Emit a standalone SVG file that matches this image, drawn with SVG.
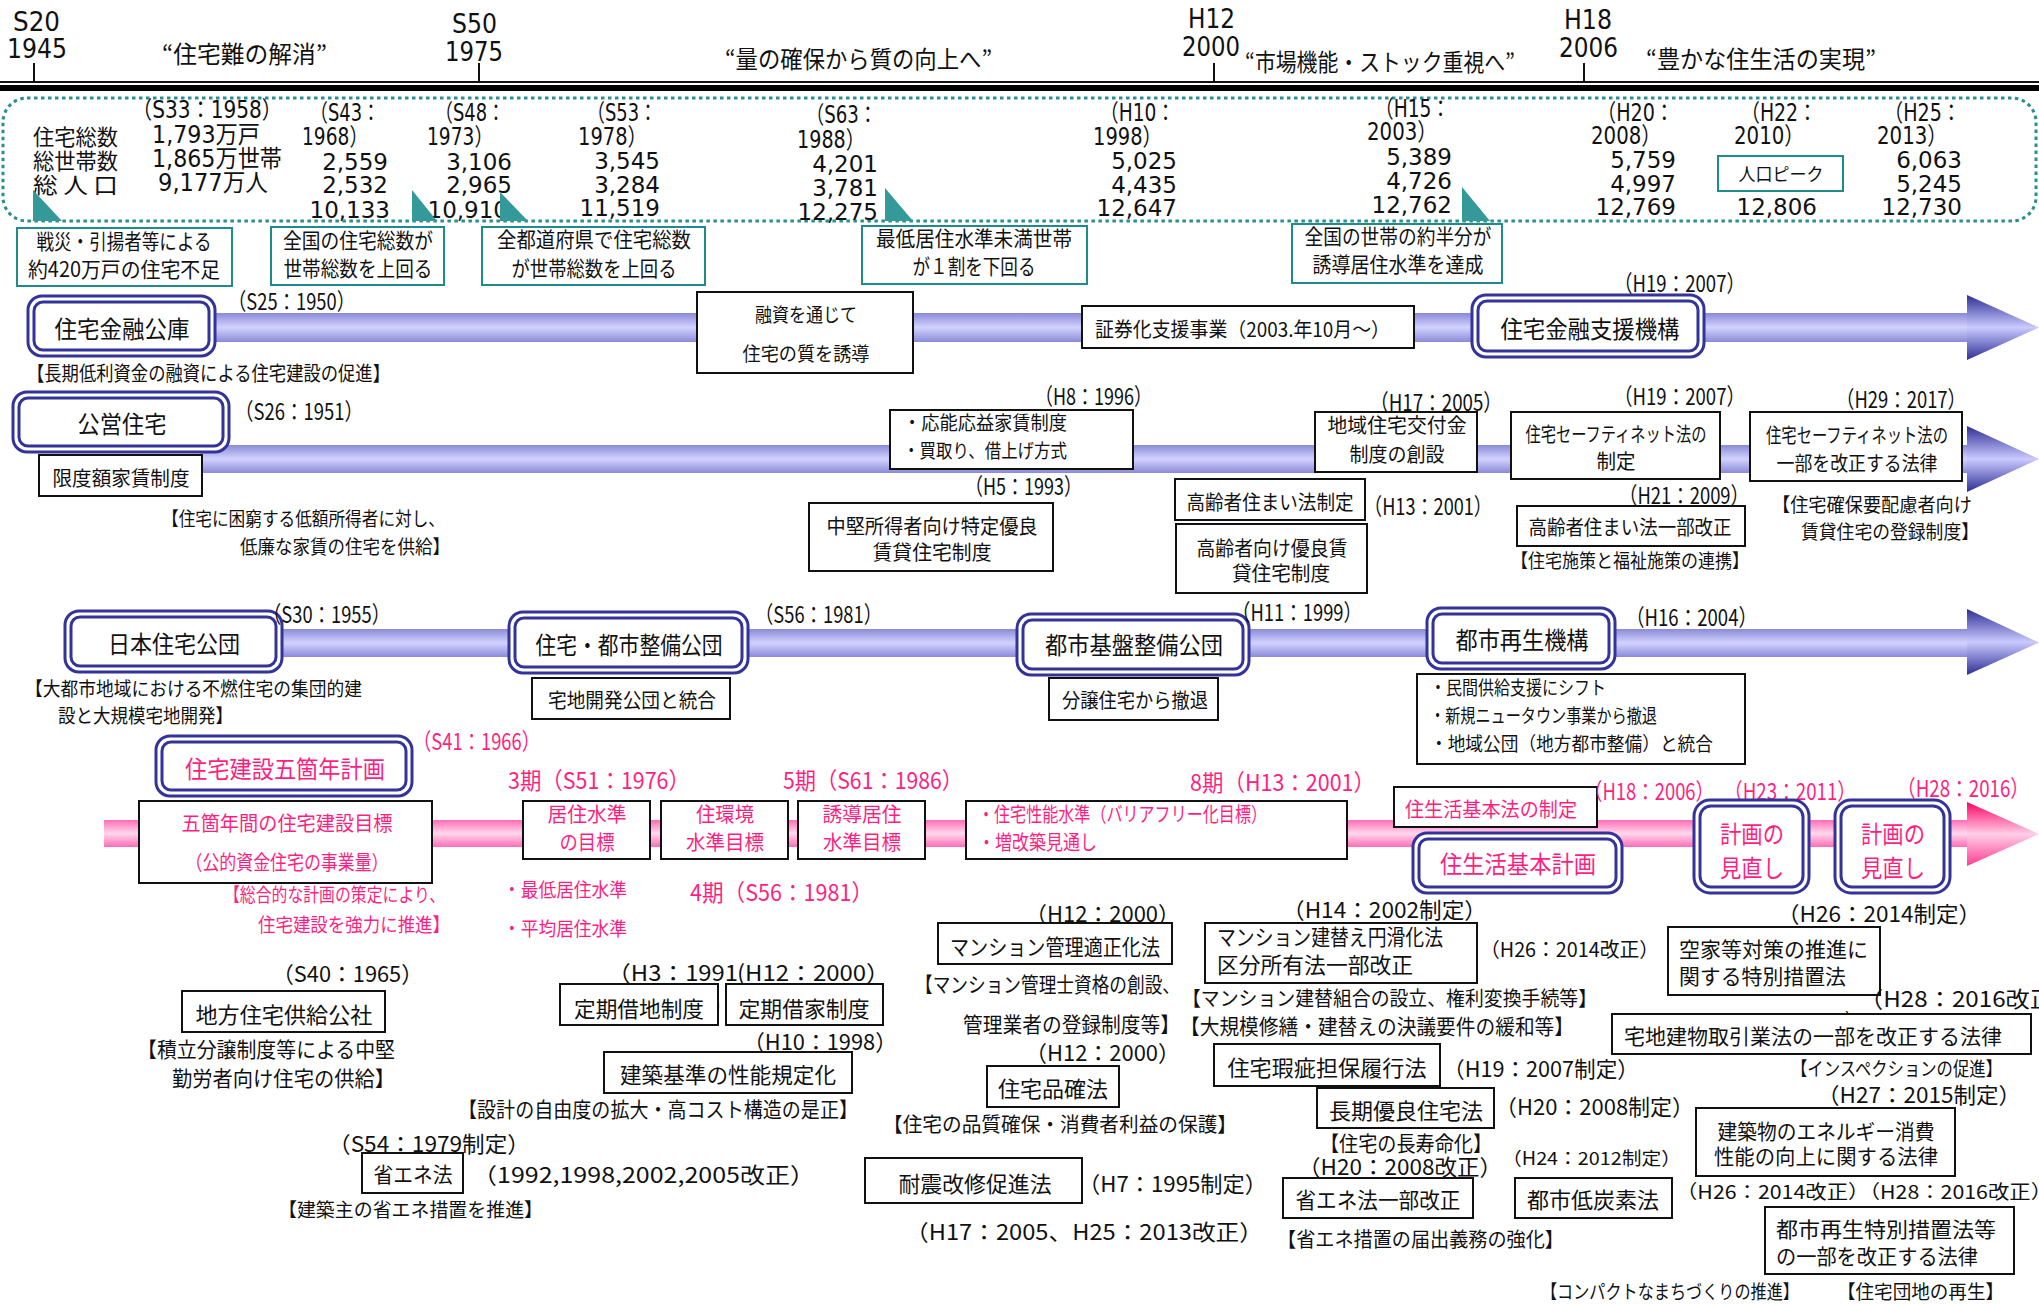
<svg xmlns="http://www.w3.org/2000/svg" width="2039" height="1305" viewBox="0 0 2039 1305">
<defs>
<linearGradient id="gB" x1="0" y1="0" x2="0" y2="1"><stop offset="0" stop-color="#8a8ad8"/><stop offset="0.5" stop-color="#d2d2ff"/><stop offset="1" stop-color="#8a8ad8"/></linearGradient>
<linearGradient id="gBH" x1="0" y1="0" x2="0" y2="1"><stop offset="0" stop-color="#2e2e96"/><stop offset="0.5" stop-color="#cacaff"/><stop offset="1" stop-color="#2e2e96"/></linearGradient>
<linearGradient id="gP" x1="0" y1="0" x2="0" y2="1"><stop offset="0" stop-color="#ff6db6"/><stop offset="0.5" stop-color="#ffd8ec"/><stop offset="1" stop-color="#ff6db6"/></linearGradient>
<linearGradient id="gPH" x1="0" y1="0" x2="0" y2="1"><stop offset="0" stop-color="#ff0066"/><stop offset="0.5" stop-color="#ffcfe6"/><stop offset="1" stop-color="#ff3d94"/></linearGradient>
<style>
text{font-family:"Noto Sans CJK JP","Noto Sans CJK SC",sans-serif;dominant-baseline:central;fill:#111}
.v{font-family:"DejaVu Sans","Noto Sans CJK JP",sans-serif}
.pk{fill:#ff1f7f}
.m{text-anchor:middle}
.e{text-anchor:end}
.box{fill:#fff;stroke:#111;stroke-width:2}
.tbox{fill:#fff;stroke:#1f8c8c;stroke-width:2}
.dbo{fill:#fff;stroke:#333399;stroke-width:3}
.dbi{fill:none;stroke:#333399;stroke-width:3}
.tri{fill:#339999}
.tick{stroke:#111;stroke-width:2}
</style>
</defs>
<rect width="2039" height="1305" fill="#fff"/>

<g id="timeline">
<line x1="0" y1="82" x2="2039" y2="82" stroke="#111" stroke-width="2"/>
<line x1="0" y1="88" x2="2039" y2="88" stroke="#000" stroke-width="6"/>
<line class="tick" x1="34" y1="63" x2="34" y2="82"/>
<line class="tick" x1="479" y1="63" x2="479" y2="82"/>
<line class="tick" x1="1214" y1="63" x2="1214" y2="82"/>
<line class="tick" x1="1584" y1="63" x2="1584" y2="82"/>
<text class="v" x="13" y="22" font-size="26" textLength="47" lengthAdjust="spacingAndGlyphs">S20</text>
<text class="v" x="7" y="49" font-size="26" textLength="60" lengthAdjust="spacingAndGlyphs">1945</text>
<text class="v" x="452" y="24" font-size="26" textLength="45" lengthAdjust="spacingAndGlyphs">S50</text>
<text class="v" x="445" y="52" font-size="26" textLength="58" lengthAdjust="spacingAndGlyphs">1975</text>
<text class="v" x="1188" y="19" font-size="26" textLength="47" lengthAdjust="spacingAndGlyphs">H12</text>
<text class="v" x="1182" y="47" font-size="26" textLength="58" lengthAdjust="spacingAndGlyphs">2000</text>
<text class="v" x="1564" y="20" font-size="26" textLength="48" lengthAdjust="spacingAndGlyphs">H18</text>
<text class="v" x="1559" y="48" font-size="26" textLength="59" lengthAdjust="spacingAndGlyphs">2006</text>
<text x="162" y="52" font-size="24" textLength="165" lengthAdjust="spacingAndGlyphs">“住宅難の解消”</text>
<text x="725" y="57" font-size="24" textLength="267" lengthAdjust="spacingAndGlyphs">“量の確保から質の向上へ”</text>
<text x="1245" y="60" font-size="24" textLength="270" lengthAdjust="spacingAndGlyphs">“市場機能・ストック重視へ”</text>
<text x="1646" y="57" font-size="24" textLength="230" lengthAdjust="spacingAndGlyphs">“豊かな住生活の実現”</text>
</g>

<g id="stats">
<rect x="3" y="98" width="2033" height="123" rx="24" fill="none" stroke="#2a8f8f" stroke-width="3" stroke-dasharray="3.5 3.5"/>
<text x="33" y="135" font-size="22" textLength="85" lengthAdjust="spacingAndGlyphs">住宅総数</text>
<text x="33" y="159" font-size="22" textLength="85" lengthAdjust="spacingAndGlyphs">総世帯数</text>
<text x="33" y="183" font-size="22" textLength="85" lengthAdjust="spacingAndGlyphs">総 人 口</text>
<text class="v" x="132" y="110" font-size="24" textLength="150" lengthAdjust="spacingAndGlyphs">（S33：1958）</text>
<text class="v" x="152" y="135" font-size="24" textLength="108" lengthAdjust="spacingAndGlyphs">1,793万戸</text>
<text class="v" x="152" y="159" font-size="24" textLength="130" lengthAdjust="spacingAndGlyphs">1,865万世帯</text>
<text class="v" x="158" y="183" font-size="24" textLength="110" lengthAdjust="spacingAndGlyphs">9,177万人</text>

<text class="v" x="310" y="113" font-size="24" textLength="70" lengthAdjust="spacingAndGlyphs">（S43：</text>
<text class="v" x="302" y="137" font-size="24" textLength="66" lengthAdjust="spacingAndGlyphs">1968）</text>
<text class="v e" x="388" y="162" font-size="23">2,559</text>
<text class="v e" x="388" y="185" font-size="23">2,532</text>
<text class="v e" x="390" y="210" font-size="23">10,133</text>

<text class="v" x="435" y="113" font-size="24" textLength="70" lengthAdjust="spacingAndGlyphs">（S48：</text>
<text class="v" x="427" y="137" font-size="24" textLength="66" lengthAdjust="spacingAndGlyphs">1973）</text>
<text class="v e" x="512" y="162" font-size="23">3,106</text>
<text class="v e" x="512" y="185" font-size="23">2,965</text>
<text class="v e" x="508" y="210" font-size="23">10,910</text>

<text class="v" x="587" y="113" font-size="24" textLength="70" lengthAdjust="spacingAndGlyphs">（S53：</text>
<text class="v" x="578" y="137" font-size="24" textLength="69" lengthAdjust="spacingAndGlyphs">1978）</text>
<text class="v e" x="660" y="161" font-size="23">3,545</text>
<text class="v e" x="660" y="185" font-size="23">3,284</text>
<text class="v e" x="660" y="208" font-size="23">11,519</text>

<text class="v" x="806" y="115" font-size="24" textLength="71" lengthAdjust="spacingAndGlyphs">（S63：</text>
<text class="v" x="797" y="140" font-size="24" textLength="68" lengthAdjust="spacingAndGlyphs">1988）</text>
<text class="v e" x="878" y="164" font-size="23">4,201</text>
<text class="v e" x="878" y="188" font-size="23">3,781</text>
<text class="v e" x="878" y="212" font-size="23">12,275</text>

<text class="v" x="1100" y="113" font-size="24" textLength="75" lengthAdjust="spacingAndGlyphs">（H10：</text>
<text class="v" x="1093" y="137" font-size="24" textLength="69" lengthAdjust="spacingAndGlyphs">1998）</text>
<text class="v e" x="1177" y="161" font-size="23">5,025</text>
<text class="v e" x="1177" y="185" font-size="23">4,435</text>
<text class="v e" x="1177" y="208" font-size="23">12,647</text>

<text class="v" x="1375" y="109" font-size="24" textLength="75" lengthAdjust="spacingAndGlyphs">（H15：</text>
<text class="v" x="1367" y="132" font-size="24" textLength="70" lengthAdjust="spacingAndGlyphs">2003）</text>
<text class="v e" x="1452" y="157" font-size="23">5,389</text>
<text class="v e" x="1452" y="181" font-size="23">4,726</text>
<text class="v e" x="1452" y="205" font-size="23">12,762</text>

<text class="v" x="1597" y="113" font-size="24" textLength="77" lengthAdjust="spacingAndGlyphs">（H20：</text>
<text class="v" x="1591" y="136" font-size="24" textLength="70" lengthAdjust="spacingAndGlyphs">2008）</text>
<text class="v e" x="1676" y="160" font-size="23">5,759</text>
<text class="v e" x="1676" y="184" font-size="23">4,997</text>
<text class="v e" x="1676" y="207" font-size="23">12,769</text>

<text class="v" x="1741" y="113" font-size="24" textLength="76" lengthAdjust="spacingAndGlyphs">（H22：</text>
<text class="v" x="1734" y="136" font-size="24" textLength="70" lengthAdjust="spacingAndGlyphs">2010）</text>
<text class="v e" x="1817" y="207" font-size="23">12,806</text>

<text class="v" x="1884" y="113" font-size="24" textLength="77" lengthAdjust="spacingAndGlyphs">（H25：</text>
<text class="v" x="1877" y="136" font-size="24" textLength="70" lengthAdjust="spacingAndGlyphs">2013）</text>
<text class="v e" x="1962" y="160" font-size="23">6,063</text>
<text class="v e" x="1962" y="184" font-size="23">5,245</text>
<text class="v e" x="1962" y="207" font-size="23">12,730</text>

<polygon class="tri" points="33,190 33,221 62,221"/>
<polygon class="tri" points="412,190 412,221 437,221"/>
<polygon class="tri" points="500,192 500,221 528,221"/>
<polygon class="tri" points="885,188 885,221 913,221"/>
<polygon class="tri" points="1462,187 1462,221 1490,221"/>
</g>

<g id="peak">
<rect class="tbox" x="1718" y="156" width="125" height="35"/>
<text class="m" x="1781" y="173" font-size="18" textLength="85" lengthAdjust="spacingAndGlyphs">人口ピーク</text>
</g>
<g id="note-1">
<rect class="tbox" x="17" y="228" width="215" height="58"/>
<text class="m" x="124" y="240" font-size="21" textLength="175" lengthAdjust="spacingAndGlyphs">戦災・引揚者等による</text>
<text class="m" x="124" y="268" font-size="21" textLength="192" lengthAdjust="spacingAndGlyphs">約420万戸の住宅不足</text>
</g>
<g id="note-2">
<rect class="tbox" x="271" y="227" width="173" height="58"/>
<text class="m" x="358" y="239" font-size="21" textLength="150" lengthAdjust="spacingAndGlyphs">全国の住宅総数が</text>
<text class="m" x="358" y="267" font-size="21" textLength="149" lengthAdjust="spacingAndGlyphs">世帯総数を上回る</text>
</g>
<g id="note-3">
<rect class="tbox" x="482" y="227" width="223" height="58"/>
<text class="m" x="594" y="238" font-size="21" textLength="194" lengthAdjust="spacingAndGlyphs">全都道府県で住宅総数</text>
<text class="m" x="594" y="267" font-size="21" textLength="165" lengthAdjust="spacingAndGlyphs">が世帯総数を上回る</text>
</g>
<g id="note-4">
<rect class="tbox" x="862" y="226" width="225" height="58"/>
<text class="m" x="974" y="237" font-size="21" textLength="196" lengthAdjust="spacingAndGlyphs">最低居住水準未満世帯</text>
<text class="m" x="974" y="265" font-size="21" textLength="123" lengthAdjust="spacingAndGlyphs">が１割を下回る</text>
</g>
<g id="note-5">
<rect class="tbox" x="1292" y="224" width="210" height="59"/>
<text class="m" x="1398" y="235" font-size="21" textLength="187" lengthAdjust="spacingAndGlyphs">全国の世帯の約半分が</text>
<text class="m" x="1398" y="263" font-size="21" textLength="171" lengthAdjust="spacingAndGlyphs">誘導居住水準を達成</text>
</g>

<g id="connectors">
<rect x="200" y="313" width="1768" height="29" fill="url(#gB)"/>
<polygon points="1967,295 2039,327.5 1967,360" fill="url(#gBH)"/>
<rect x="200" y="445" width="1768" height="28" fill="url(#gB)"/>
<polygon points="1967,426 2039,459 1967,492" fill="url(#gBH)"/>
<rect x="260" y="629" width="1708" height="28" fill="url(#gB)"/>
<polygon points="1967,609 2039,642.5 1967,675" fill="url(#gBH)"/>
<rect x="104" y="820" width="1864" height="27" fill="url(#gP)"/>
<polygon points="1967,802 2039,834 1967,866" fill="url(#gPH)"/>
</g>

<!-- Row 1 -->
<g id="jutaku-kinyu-koko">
<rect class="dbo" x="28" y="296" width="187" height="60" rx="14"/>
<rect class="dbi" x="34" y="302" width="175" height="48" rx="9"/>
<text class="m" x="122" y="327" font-size="24" textLength="135" lengthAdjust="spacingAndGlyphs">住宅金融公庫</text>
<text x="228" y="300" font-size="23" textLength="127" lengthAdjust="spacingAndGlyphs">（S25：1950）</text>
<text x="27" y="372" font-size="20" textLength="363" lengthAdjust="spacingAndGlyphs">【長期低利資金の融資による住宅建設の促進】</text>
</g>
<g id="yushi">
<rect class="box" x="697" y="292" width="216" height="81"/>
<text class="m" x="806" y="313" font-size="19" textLength="102" lengthAdjust="spacingAndGlyphs">融資を通じて</text>
<text class="m" x="806" y="352" font-size="19" textLength="127" lengthAdjust="spacingAndGlyphs">住宅の質を誘導</text>
</g>
<g id="shokenka">
<rect class="box" x="1082" y="306" width="332" height="42"/>
<text x="1095" y="328" font-size="20" textLength="295" lengthAdjust="spacingAndGlyphs">証券化支援事業（2003.年10月～）</text>
</g>
<g id="jutaku-kinyu-shien-kiko">
<rect class="dbo" x="1472" y="295" width="232" height="62" rx="14"/>
<rect class="dbi" x="1478" y="301" width="220" height="50" rx="9"/>
<text class="m" x="1590" y="327" font-size="24" textLength="179" lengthAdjust="spacingAndGlyphs">住宅金融支援機構</text>
<text x="1614" y="282" font-size="23" textLength="131" lengthAdjust="spacingAndGlyphs">（H19：2007）</text>
</g>

<!-- Row 2 -->
<g id="koei-jutaku">
<rect class="dbo" x="13" y="392" width="216" height="60" rx="14"/>
<rect class="dbi" x="19" y="398" width="204" height="48" rx="9"/>
<text class="m" x="122" y="422" font-size="24" textLength="89" lengthAdjust="spacingAndGlyphs">公営住宅</text>
<text x="235" y="410" font-size="23" textLength="128" lengthAdjust="spacingAndGlyphs">（S26：1951）</text>
</g>
<g id="gendogaku">
<rect class="box" x="39" y="455" width="163" height="41"/>
<text class="m" x="121" y="477" font-size="20" textLength="137" lengthAdjust="spacingAndGlyphs">限度額家賃制度</text>
<text x="162" y="517" font-size="19" textLength="283" lengthAdjust="spacingAndGlyphs">【住宅に困窮する低額所得者に対し、</text>
<text x="240" y="545" font-size="19" textLength="210" lengthAdjust="spacingAndGlyphs">低廉な家賃の住宅を供給】</text>
</g>
<g id="ono-oeki">
<rect class="box" x="890" y="410" width="243" height="59"/>
<text x="903" y="421" font-size="19" textLength="164" lengthAdjust="spacingAndGlyphs">・応能応益家賃制度</text>
<text x="903" y="449" font-size="19" textLength="164" lengthAdjust="spacingAndGlyphs">・買取り、借上げ方式</text>
<text x="1035" y="395" font-size="23" textLength="117" lengthAdjust="spacingAndGlyphs">（H8：1996）</text>
</g>
<g id="tokutei-yuryo">
<text x="965" y="485" font-size="23" textLength="117" lengthAdjust="spacingAndGlyphs">（H5：1993）</text>
<rect class="box" x="809" y="503" width="244" height="68"/>
<text class="m" x="932" y="525" font-size="20" textLength="211" lengthAdjust="spacingAndGlyphs">中堅所得者向け特定優良</text>
<text class="m" x="932" y="551" font-size="20" textLength="119" lengthAdjust="spacingAndGlyphs">賃貸住宅制度</text>
</g>
<g id="chiiki-kofukin">
<rect class="box" x="1315" y="412" width="162" height="60"/>
<text class="m" x="1397" y="424" font-size="20" textLength="139" lengthAdjust="spacingAndGlyphs">地域住宅交付金</text>
<text class="m" x="1397" y="453" font-size="20" textLength="95" lengthAdjust="spacingAndGlyphs">制度の創設</text>
<text x="1370" y="401" font-size="23" textLength="132" lengthAdjust="spacingAndGlyphs">（H17：2005）</text>
</g>
<g id="koreisha-sumai">
<rect class="box" x="1175" y="479" width="190" height="41"/>
<text class="m" x="1270" y="501" font-size="20" textLength="167" lengthAdjust="spacingAndGlyphs">高齢者住まい法制定</text>
<text x="1364" y="505" font-size="23" textLength="128" lengthAdjust="spacingAndGlyphs">（H13：2001）</text>
<rect class="box" x="1176" y="524" width="191" height="69"/>
<text class="m" x="1272" y="547" font-size="20" textLength="151" lengthAdjust="spacingAndGlyphs">高齢者向け優良賃</text>
<text class="m" x="1281" y="572" font-size="20" textLength="98" lengthAdjust="spacingAndGlyphs">貸住宅制度</text>
</g>
<g id="safety-net">
<text x="1614" y="395" font-size="23" textLength="131" lengthAdjust="spacingAndGlyphs">（H19：2007）</text>
<rect class="box" x="1511" y="412" width="209" height="67"/>
<text class="m" x="1616" y="433" font-size="20" textLength="181" lengthAdjust="spacingAndGlyphs">住宅セーフティネット法の</text>
<text class="m" x="1616" y="460" font-size="20" textLength="39" lengthAdjust="spacingAndGlyphs">制定</text>
</g>
<g id="safety-net-kaisei">
<text x="1836" y="398" font-size="23" textLength="130" lengthAdjust="spacingAndGlyphs">（H29：2017）</text>
<rect class="box" x="1750" y="412" width="212" height="69"/>
<text class="m" x="1857" y="434" font-size="20" textLength="182" lengthAdjust="spacingAndGlyphs">住宅セーフティネット法の</text>
<text class="m" x="1857" y="462" font-size="20" textLength="161" lengthAdjust="spacingAndGlyphs">一部を改正する法律</text>
<text x="1772" y="503" font-size="19" textLength="200" lengthAdjust="spacingAndGlyphs">【住宅確保要配慮者向け</text>
<text x="1801" y="530" font-size="19" textLength="178" lengthAdjust="spacingAndGlyphs">賃貸住宅の登録制度】</text>
</g>
<g id="koreisha-kaisei">
<text x="1619" y="494" font-size="23" textLength="130" lengthAdjust="spacingAndGlyphs">（H21：2009）</text>
<rect class="box" x="1517" y="506" width="228" height="40"/>
<text class="m" x="1630" y="526" font-size="20" textLength="203" lengthAdjust="spacingAndGlyphs">高齢者住まい法一部改正</text>
<text x="1511" y="559" font-size="19" textLength="238" lengthAdjust="spacingAndGlyphs">【住宅施策と福祉施策の連携】</text>
</g>

<!-- Row 3 -->
<g id="nihon-jutaku-kodan">
<rect class="dbo" x="65" y="611" width="217" height="61" rx="14"/>
<rect class="dbi" x="71" y="617" width="205" height="49" rx="9"/>
<text class="m" x="174" y="642" font-size="24" textLength="132" lengthAdjust="spacingAndGlyphs">日本住宅公団</text>
<text x="263" y="613" font-size="23" textLength="127" lengthAdjust="spacingAndGlyphs">（S30：1955）</text>
<text x="25" y="687" font-size="19" textLength="337" lengthAdjust="spacingAndGlyphs">【大都市地域における不燃住宅の集団的建</text>
<text x="58" y="714" font-size="19" textLength="175" lengthAdjust="spacingAndGlyphs">設と大規模宅地開発】</text>
</g>
<g id="jutaku-toshi-seibi-kodan">
<rect class="dbo" x="509" y="612" width="239" height="61" rx="14"/>
<rect class="dbi" x="515" y="618" width="227" height="49" rx="9"/>
<text class="m" x="629" y="643" font-size="24" textLength="187" lengthAdjust="spacingAndGlyphs">住宅・都市整備公団</text>
<text x="755" y="613" font-size="23" textLength="127" lengthAdjust="spacingAndGlyphs">（S56：1981）</text>
</g>
<g id="takuchi-kaihatsu">
<rect class="box" x="532" y="678" width="198" height="41"/>
<text class="m" x="632" y="699" font-size="20" textLength="168" lengthAdjust="spacingAndGlyphs">宅地開発公団と統合</text>
</g>
<g id="toshi-kiban-seibi-kodan">
<rect class="dbo" x="1017" y="614" width="232" height="61" rx="14"/>
<rect class="dbi" x="1023" y="620" width="220" height="49" rx="9"/>
<text class="m" x="1134" y="643" font-size="24" textLength="178" lengthAdjust="spacingAndGlyphs">都市基盤整備公団</text>
<text x="1232" y="611" font-size="23" textLength="130" lengthAdjust="spacingAndGlyphs">（H11：1999）</text>
</g>
<g id="bunjo">
<rect class="box" x="1049" y="678" width="169" height="42"/>
<text class="m" x="1135" y="699" font-size="20" textLength="146" lengthAdjust="spacingAndGlyphs">分譲住宅から撤退</text>
</g>
<g id="toshi-saisei-kiko">
<rect class="dbo" x="1427" y="608" width="188" height="61" rx="14"/>
<rect class="dbi" x="1433" y="614" width="176" height="49" rx="9"/>
<text class="m" x="1522" y="638" font-size="24" textLength="133" lengthAdjust="spacingAndGlyphs">都市再生機構</text>
<text x="1626" y="616" font-size="23" textLength="131" lengthAdjust="spacingAndGlyphs">（H16：2004）</text>
</g>
<g id="minkan">
<rect class="box" x="1417" y="674" width="328" height="90"/>
<text x="1430" y="686" font-size="19" textLength="176" lengthAdjust="spacingAndGlyphs">・民間供給支援にシフト</text>
<text x="1430" y="714" font-size="19" textLength="227" lengthAdjust="spacingAndGlyphs">・新規ニュータウン事業から撤退</text>
<text x="1430" y="742" font-size="19" textLength="283" lengthAdjust="spacingAndGlyphs">・地域公団（地方都市整備）と統合</text>
</g>

<!-- Row 4 -->
<g id="gokanen-keikaku">
<rect class="dbo" x="156" y="736" width="256" height="60" rx="14"/>
<rect class="dbi" x="162" y="742" width="244" height="48" rx="9"/>
<text class="m pk" x="285" y="767" font-size="24" textLength="200" lengthAdjust="spacingAndGlyphs">住宅建設五箇年計画</text>
<text class="pk" x="413" y="740" font-size="23" textLength="127" lengthAdjust="spacingAndGlyphs">（S41：1966）</text>
</g>
<g id="gokanen-mokuhyo">
<rect class="box" x="139" y="801" width="293" height="82"/>
<text class="m pk" x="287" y="822" font-size="20" textLength="211" lengthAdjust="spacingAndGlyphs">五箇年間の住宅建設目標</text>
<text class="m pk" x="287" y="861" font-size="20" textLength="203" lengthAdjust="spacingAndGlyphs">（公的資金住宅の事業量）</text>
<text class="pk" x="224" y="893" font-size="19" textLength="221" lengthAdjust="spacingAndGlyphs">【総合的な計画の策定により、</text>
<text class="pk" x="258" y="923" font-size="19" textLength="192" lengthAdjust="spacingAndGlyphs">住宅建設を強力に推進】</text>
</g>
<g id="ki3">
<text class="pk" x="508" y="779" font-size="23" textLength="182" lengthAdjust="spacingAndGlyphs">3期（S51：1976）</text>
<rect class="box" x="523" y="801" width="127" height="58"/>
<text class="m pk" x="587" y="813" font-size="20" textLength="79" lengthAdjust="spacingAndGlyphs">居住水準</text>
<text class="m pk" x="587" y="841" font-size="20" textLength="55" lengthAdjust="spacingAndGlyphs">の目標</text>
<text class="pk" x="503" y="888" font-size="19" textLength="124" lengthAdjust="spacingAndGlyphs">・最低居住水準</text>
<text class="pk" x="503" y="927" font-size="19" textLength="124" lengthAdjust="spacingAndGlyphs">・平均居住水準</text>
</g>
<g id="ki4">
<rect class="box" x="661" y="801" width="127" height="58"/>
<text class="m pk" x="725" y="813" font-size="20" textLength="58" lengthAdjust="spacingAndGlyphs">住環境</text>
<text class="m pk" x="725" y="841" font-size="20" textLength="78" lengthAdjust="spacingAndGlyphs">水準目標</text>
<text class="pk" x="690" y="891" font-size="23" textLength="183" lengthAdjust="spacingAndGlyphs">4期（S56：1981）</text>
</g>
<g id="ki5">
<text class="pk" x="783" y="779" font-size="23" textLength="180" lengthAdjust="spacingAndGlyphs">5期（S61：1986）</text>
<rect class="box" x="798" y="801" width="127" height="58"/>
<text class="m pk" x="862" y="813" font-size="20" textLength="79" lengthAdjust="spacingAndGlyphs">誘導居住</text>
<text class="m pk" x="862" y="841" font-size="20" textLength="78" lengthAdjust="spacingAndGlyphs">水準目標</text>
</g>
<g id="ki8">
<rect class="box" x="966" y="801" width="381" height="58"/>
<text class="pk" x="978" y="813" font-size="20" textLength="289" lengthAdjust="spacingAndGlyphs">・住宅性能水準（バリアフリー化目標）</text>
<text class="pk" x="978" y="841" font-size="20" textLength="119" lengthAdjust="spacingAndGlyphs">・増改築見通し</text>
<text class="pk" x="1190" y="781" font-size="23" textLength="185" lengthAdjust="spacingAndGlyphs">8期（H13：2001）</text>
</g>
<g id="jyuseikatsu-kihonho">
<rect class="box" x="1394" y="787" width="203" height="40"/>
<text class="m pk" x="1491" y="808" font-size="20" textLength="172" lengthAdjust="spacingAndGlyphs">住生活基本法の制定</text>
<text class="pk" x="1584" y="790" font-size="23" textLength="130" lengthAdjust="spacingAndGlyphs">（H18：2006）</text>
</g>
<g id="jyuseikatsu-kihon-keikaku">
<rect class="dbo" x="1413" y="833" width="209" height="60" rx="14"/>
<rect class="dbi" x="1419" y="839" width="197" height="48" rx="9"/>
<text class="m pk" x="1518" y="862" font-size="24" textLength="156" lengthAdjust="spacingAndGlyphs">住生活基本計画</text>
</g>
<g id="minaoshi-1">
<text class="pk" x="1724" y="790" font-size="23" textLength="132" lengthAdjust="spacingAndGlyphs">（H23：2011）</text>
<rect class="dbo" x="1694" y="800" width="115" height="93" rx="16"/>
<rect class="dbi" x="1700" y="806" width="103" height="81" rx="11"/>
<text class="m pk" x="1752" y="832" font-size="24" textLength="64" lengthAdjust="spacingAndGlyphs">計画の</text>
<text class="m pk" x="1752" y="866" font-size="24" textLength="64" lengthAdjust="spacingAndGlyphs">見直し</text>
</g>
<g id="minaoshi-2">
<text class="pk" x="1897" y="787" font-size="23" textLength="132" lengthAdjust="spacingAndGlyphs">（H28：2016）</text>
<rect class="dbo" x="1835" y="800" width="115" height="93" rx="16"/>
<rect class="dbi" x="1841" y="806" width="103" height="81" rx="11"/>
<text class="m pk" x="1893" y="832" font-size="24" textLength="64" lengthAdjust="spacingAndGlyphs">計画の</text>
<text class="m pk" x="1893" y="866" font-size="24" textLength="64" lengthAdjust="spacingAndGlyphs">見直し</text>
</g>

<!-- Lower laws -->
<g id="chiho-kosha">
<text x="272" y="972" font-size="22" textLength="151" lengthAdjust="spacingAndGlyphs">（S40：1965）</text>
<rect class="box" x="182" y="991" width="203" height="41"/>
<text class="m" x="284" y="1013" font-size="22" textLength="177" lengthAdjust="spacingAndGlyphs">地方住宅供給公社</text>
<text x="137" y="1048" font-size="21" textLength="258" lengthAdjust="spacingAndGlyphs">【積立分譲制度等による中堅</text>
<text x="172" y="1077" font-size="21" textLength="223" lengthAdjust="spacingAndGlyphs">勤労者向け住宅の供給】</text>
</g>
<g id="shoene-ho">
<text x="328" y="1142" font-size="22" textLength="202" lengthAdjust="spacingAndGlyphs">（S54：1979制定）</text>
<rect class="box" x="362" y="1153" width="101" height="40"/>
<text class="m" x="413" y="1173" font-size="21" textLength="79" lengthAdjust="spacingAndGlyphs">省エネ法</text>
<text x="472" y="1173" font-size="22" textLength="343" lengthAdjust="spacingAndGlyphs">（1992,1998,2002,2005改正）</text>
<text x="278" y="1208" font-size="19" textLength="265" lengthAdjust="spacingAndGlyphs">【建築主の省エネ措置を推進】</text>
</g>
<g id="teiki-shakuchi">
<text x="607" y="971" font-size="22" textLength="131" lengthAdjust="spacingAndGlyphs">（H3：1991</text>
<text x="714" y="1003" font-size="20">)</text>
<rect class="box" x="560" y="984" width="158" height="41"/>
<text class="m" x="639" y="1007" font-size="22" textLength="130" lengthAdjust="spacingAndGlyphs">定期借地制度</text>
</g>
<g id="teiki-shakuya">
<text x="737" y="971" font-size="22" textLength="153" lengthAdjust="spacingAndGlyphs">(H12：2000）</text>
<rect class="box" x="726" y="984" width="157" height="41"/>
<text class="m" x="804" y="1007" font-size="22" textLength="131" lengthAdjust="spacingAndGlyphs">定期借家制度</text>
</g>
<g id="seino-kitei">
<text x="743" y="1040" font-size="22" textLength="154" lengthAdjust="spacingAndGlyphs">（H10：1998）</text>
<rect class="box" x="604" y="1052" width="248" height="41"/>
<text class="m" x="728" y="1073" font-size="22" textLength="216" lengthAdjust="spacingAndGlyphs">建築基準の性能規定化</text>
<text x="458" y="1108" font-size="21" textLength="400" lengthAdjust="spacingAndGlyphs">【設計の自由度の拡大・高コスト構造の是正】</text>
</g>
<g id="mansion-kanri">
<text x="1025" y="912" font-size="22" textLength="155" lengthAdjust="spacingAndGlyphs">（H12：2000）</text>
<rect class="box" x="938" y="923" width="234" height="41"/>
<text class="m" x="1055" y="945" font-size="22" textLength="210" lengthAdjust="spacingAndGlyphs">マンション管理適正化法</text>
<text x="915" y="983" font-size="21" textLength="265" lengthAdjust="spacingAndGlyphs">【マンション管理士資格の創設、</text>
<text x="963" y="1023" font-size="21" textLength="217" lengthAdjust="spacingAndGlyphs">管理業者の登録制度等】</text>
</g>
<g id="hinkaku-ho">
<text x="1025" y="1051" font-size="22" textLength="155" lengthAdjust="spacingAndGlyphs">（H12：2000）</text>
<rect class="box" x="987" y="1066" width="132" height="41"/>
<text class="m" x="1053" y="1087" font-size="22" textLength="110" lengthAdjust="spacingAndGlyphs">住宅品確法</text>
<text x="883" y="1123" font-size="20" textLength="354" lengthAdjust="spacingAndGlyphs">【住宅の品質確保・消費者利益の保護】</text>
</g>
<g id="taishin">
<rect class="box" x="865" y="1158" width="217" height="45"/>
<text class="m" x="975" y="1182" font-size="22" textLength="153" lengthAdjust="spacingAndGlyphs">耐震改修促進法</text>
<text x="1078" y="1182" font-size="22" textLength="189" lengthAdjust="spacingAndGlyphs">（H7：1995制定）</text>
<text x="905" y="1230" font-size="22" textLength="358" lengthAdjust="spacingAndGlyphs">（H17：2005、H25：2013改正）</text>
</g>
<g id="mansion-tatekae">
<text x="1282" y="908" font-size="22" textLength="205" lengthAdjust="spacingAndGlyphs">（H14：2002制定）</text>
<rect class="box" x="1205" y="923" width="272" height="60"/>
<text x="1217" y="935" font-size="22" textLength="226" lengthAdjust="spacingAndGlyphs">マンション建替え円滑化法</text>
<text x="1217" y="963" font-size="22" textLength="196" lengthAdjust="spacingAndGlyphs">区分所有法一部改正</text>
<text x="1480" y="948" font-size="20" textLength="179" lengthAdjust="spacingAndGlyphs">（H26：2014改正）</text>
<text x="1182" y="997" font-size="20" textLength="415" lengthAdjust="spacingAndGlyphs">【マンション建替組合の設立、権利変換手続等】</text>
<text x="1180" y="1025" font-size="21" textLength="394" lengthAdjust="spacingAndGlyphs">【大規模修繕・建替えの決議要件の緩和等】</text>
</g>
<g id="kashi-tanpo">
<rect class="box" x="1214" y="1044" width="226" height="42"/>
<text class="m" x="1327" y="1066" font-size="22" textLength="199" lengthAdjust="spacingAndGlyphs">住宅瑕疵担保履行法</text>
<text x="1443" y="1067" font-size="22" textLength="196" lengthAdjust="spacingAndGlyphs">（H19：2007制定）</text>
</g>
<g id="choki-yuryo">
<rect class="box" x="1317" y="1088" width="177" height="40"/>
<text class="m" x="1406" y="1109" font-size="22" textLength="154" lengthAdjust="spacingAndGlyphs">長期優良住宅法</text>
<text x="1495" y="1105" font-size="22" textLength="199" lengthAdjust="spacingAndGlyphs">（H20：2008制定）</text>
<text x="1320" y="1142" font-size="21" textLength="172" lengthAdjust="spacingAndGlyphs">【住宅の長寿命化】</text>
</g>
<g id="shoene-kaisei">
<text x="1298" y="1165" font-size="22" textLength="204" lengthAdjust="spacingAndGlyphs">（H20：2008改正）</text>
<rect class="box" x="1283" y="1178" width="190" height="40"/>
<text class="m" x="1378" y="1198" font-size="22" textLength="165" lengthAdjust="spacingAndGlyphs">省エネ法一部改正</text>
<text x="1277" y="1238" font-size="20" textLength="287" lengthAdjust="spacingAndGlyphs">【省エネ措置の届出義務の強化】</text>
</g>
<g id="toshi-teitanso">
<text x="1502" y="1157" font-size="18" textLength="179" lengthAdjust="spacingAndGlyphs">（H24：2012制定）</text>
<rect class="box" x="1515" y="1178" width="157" height="40"/>
<text class="m" x="1593" y="1198" font-size="22" textLength="132" lengthAdjust="spacingAndGlyphs">都市低炭素法</text>
<text x="1541" y="1290" font-size="19" textLength="258" lengthAdjust="spacingAndGlyphs">【コンパクトなまちづくりの推進】</text>
</g>
<g id="akiya">
<text x="1777" y="912" font-size="22" textLength="204" lengthAdjust="spacingAndGlyphs">（H26：2014制定）</text>
<rect class="box" x="1668" y="927" width="212" height="68"/>
<text x="1679" y="948" font-size="21" textLength="189" lengthAdjust="spacingAndGlyphs">空家等対策の推進に</text>
<text x="1679" y="975" font-size="21" textLength="167" lengthAdjust="spacingAndGlyphs">関する特別措置法</text>
</g>
<g id="takken">
<text x="1859" y="997" font-size="22" textLength="195" lengthAdjust="spacingAndGlyphs">（H28：2016改正</text>
<text x="1845" y="1018" font-size="20">)</text>
<rect class="box" x="1612" y="1014" width="419" height="40"/>
<text x="1624" y="1035" font-size="21" textLength="378" lengthAdjust="spacingAndGlyphs">宅地建物取引業法の一部を改正する法律</text>
<text x="1791" y="1067" font-size="19" textLength="211" lengthAdjust="spacingAndGlyphs">【インスペクションの促進】</text>
</g>
<g id="kenchikubutsu-energy">
<text x="1817" y="1093" font-size="22" textLength="204" lengthAdjust="spacingAndGlyphs">（H27：2015制定）</text>
<rect class="box" x="1696" y="1108" width="259" height="68"/>
<text class="m" x="1826" y="1130" font-size="21" textLength="217" lengthAdjust="spacingAndGlyphs">建築物のエネルギー消費</text>
<text class="m" x="1826" y="1155" font-size="21" textLength="224" lengthAdjust="spacingAndGlyphs">性能の向上に関する法律</text>
</g>
<g id="toshi-saisei-tokubetsu">
<text x="1676" y="1190" font-size="19" textLength="376" lengthAdjust="spacingAndGlyphs">（H26：2014改正）（H28：2016改正）</text>
<rect class="box" x="1765" y="1207" width="249" height="67"/>
<text x="1776" y="1228" font-size="21" textLength="220" lengthAdjust="spacingAndGlyphs">都市再生特別措置法等</text>
<text x="1776" y="1255" font-size="21" textLength="202" lengthAdjust="spacingAndGlyphs">の一部を改正する法律</text>
<text x="1837" y="1290" font-size="19" textLength="167" lengthAdjust="spacingAndGlyphs">【住宅団地の再生】</text>
</g>
<text x="2003" y="1318" font-size="28" font-weight="bold" font-family="DejaVu Sans, sans-serif">14</text>
</svg>
